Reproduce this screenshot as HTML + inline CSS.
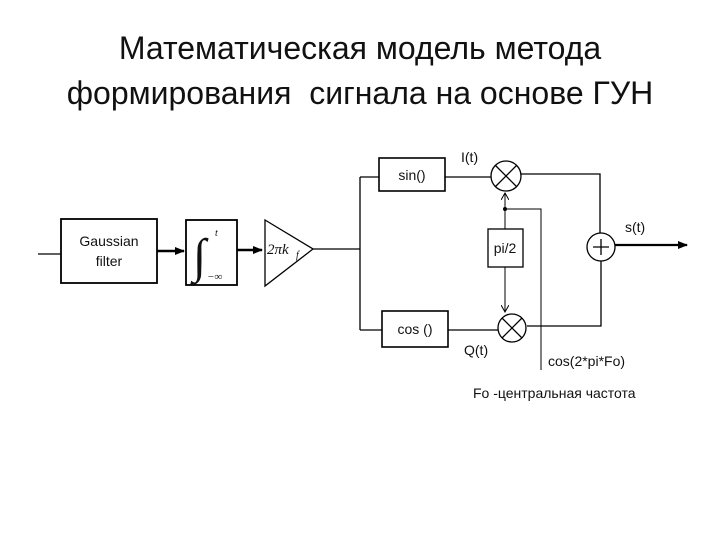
<!DOCTYPE html>
<html><head><meta charset="utf-8"><style>
body{margin:0;background:#fff;width:720px;height:540px;overflow:hidden;font-family:"Liberation Sans",sans-serif}
.t{position:absolute;left:0;width:720px;text-align:center;font-size:32px;color:#111;white-space:nowrap}
</style></head><body>
<div class="t" style="top:30px">Математическая модель метода</div>
<div class="t" style="top:75px">формирования&nbsp; сигнала на основе ГУН</div>
<svg width="720" height="540" style="position:absolute;left:0;top:0" font-family="Liberation Sans, sans-serif">
<defs><marker id="a" markerWidth="10" markerHeight="8" refX="9" refY="4" orient="auto" markerUnits="userSpaceOnUse"><path d="M0,0L10,4L0,8z" fill="#000"/></marker>
<marker id="b" markerWidth="8" markerHeight="8" refX="7" refY="4" orient="auto" markerUnits="userSpaceOnUse"><path d="M0,0L7,4L0,8" fill="none" stroke="#000"/></marker></defs>
<g stroke="#000" fill="none" stroke-width="1.3">
<line x1="38" y1="254" x2="61" y2="254"/>
<rect x="61" y="219" width="96" height="64" stroke-width="1.8"/>
<line x1="157" y1="251" x2="184" y2="251" stroke-width="2.5" marker-end="url(#a)"/>
<rect x="186" y="220" width="51" height="65" stroke-width="1.8"/>
<line x1="237" y1="250" x2="262" y2="250" stroke-width="2.5" marker-end="url(#a)"/>
<path d="M265,220L313,249L265,286z"/>
<line x1="313" y1="249" x2="360" y2="249"/>
<line x1="360" y1="177" x2="360" y2="330"/>
<line x1="360" y1="177" x2="379" y2="177"/>
<rect x="379" y="158" width="66" height="33" stroke-width="1.6"/>
<line x1="445" y1="177" x2="491" y2="177"/>
<circle cx="506" cy="176" r="15"/>
<path d="M495,165L517,187M517,165L495,187"/>
<path d="M521,174H600V233"/>
<circle cx="601" cy="247" r="14"/>
<path d="M601,239V255M593,247H609"/>
<line x1="615" y1="245" x2="687" y2="245" stroke-width="2.2" marker-end="url(#a)"/>
<path d="M601,261V326H527"/>
<line x1="360" y1="330" x2="382" y2="330"/>
<rect x="382" y="311" width="66" height="36" stroke-width="1.6"/>
<line x1="448" y1="330" x2="498" y2="330"/>
<circle cx="512" cy="328" r="14"/>
<path d="M502,318L522,338M522,318L502,338"/>
<rect x="488" y="229" width="35" height="38"/>
<line x1="505" y1="229" x2="505" y2="193" stroke-width="1" marker-end="url(#b)"/>
<path d="M505,209H541V370" stroke-width="1"/>
<line x1="505" y1="267" x2="505" y2="312" stroke-width="1" marker-end="url(#b)"/>
</g>
<circle cx="505" cy="209" r="2"/>
<g font-size="14" fill="#111" text-anchor="middle">
<text x="109" y="246">Gaussian</text><text x="109" y="266">filter</text>
<text x="412" y="180">sin()</text>
<text x="415" y="334">cos ()</text>
<text x="505" y="253">pi/2</text>
</g>
<g font-size="14" fill="#111">
<text x="461" y="162">I(t)</text>
<text x="464" y="355">Q(t)</text>
<text x="625" y="232">s(t)</text>
<text x="548" y="366">cos(2*pi*Fo)</text>
<text x="473" y="398">Fo -центральная частота</text>
</g>
<g font-family="Liberation Serif, serif" font-style="italic" fill="#111">
<text x="193" y="272" font-size="48">∫</text>
<text x="215" y="236" font-size="10">t</text>
<text x="207" y="280" font-size="11">−∞</text>
<text x="267" y="254" font-size="15">2πk</text>
<text x="296" y="258" font-size="10">f</text>
</g>
</svg>
</body></html>
